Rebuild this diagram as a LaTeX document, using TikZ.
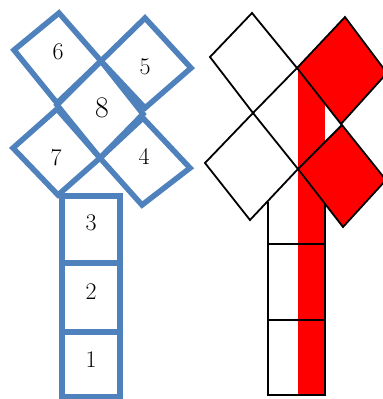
\documentclass[tikz,border=0pt]{standalone}
\usepackage{fontspec}
\definecolor{offblue}{RGB}{79,129,189}
\definecolor{pure red}{RGB}{255,0,0}
\begin{document}
\begin{tikzpicture}[x=1bp,y=-1bp,
  bluebox/.style={draw=offblue,line width=5.5bp,line join=miter},
  blackline/.style={draw=black,line width=1.8bp,line join=miter},
  redfill/.style={fill=pure red},
  digit/.style={inner sep=0pt,font=\fontsize{24}{24}\selectfont},
  bigdigit/.style={inner sep=0pt,font=\fontsize{30}{30}\selectfont}]
\useasboundingbox (0,0) rectangle (383,399);
\clip (0,0) rectangle (383,399);
% ---------- left figure ----------
\draw[bluebox] (59,13) -- (101,61) -- (57,103) -- (14,50) -- cycle;   % 6
\draw[bluebox] (145,18) -- (191,68) -- (145,108) -- (101,61) -- cycle; % 5
\draw[bluebox] (101,61) -- (143,114) -- (100,158) -- (57,105) -- cycle; % 8
\draw[bluebox] (57,109) -- (100,158) -- (58,195) -- (13,148) -- cycle; % 7
\draw[bluebox] (143,118) -- (190,168) -- (142,205) -- (100,158) -- cycle; % 4
\draw[bluebox] (62,196) rectangle (120,263);
\draw[bluebox] (62,263) rectangle (120,332);
\draw[bluebox] (62,332) rectangle (120,397);
\node[digit] (n6) at (58,52) {6};
\node[digit] (n5) at (145,67) {5};
\node[bigdigit] (n8) at (102,108) {8};
\node[digit] (n7) at (56,158) {7};
\node[digit] (n4) at (144,156) {4};
\node[digit] (n3) at (91,223) {3};
\node[digit] (n2) at (91,292) {2};
\node[digit] (n1) at (91,360) {1};
% ---------- right figure ----------
\fill[redfill] (297.5,68) rectangle (325,395);
\filldraw[redfill,blackline] (345,17) -- (387,73) -- (341,124) -- (297,68) -- cycle;
\filldraw[redfill,blackline] (342,125) -- (386,180) -- (343,227) -- (298,169) -- cycle;
\draw[blackline] (252,13) -- (297,68) -- (253,113) -- (210,57) -- cycle;
\draw[blackline] (253,113) -- (298,169) -- (250,220) -- (205,163) -- cycle;
\draw[blackline] (268,202) -- (268,395) -- (325,395) -- (325,204);
\draw[blackline] (268,244) -- (325,244);
\draw[blackline] (268,320) -- (325,320);
\end{tikzpicture}
\end{document}
